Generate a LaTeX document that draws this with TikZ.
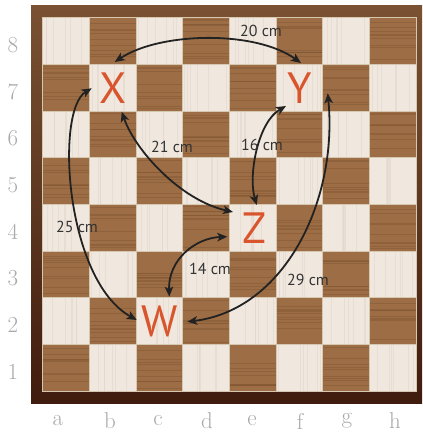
\documentclass[tikz,border=0pt]{standalone}
\usepackage{fontspec}
\newfontfamily\labfont{PT Sans}
\usetikzlibrary{arrows.meta}
\definecolor{lightsq}{HTML}{F0E8DF}
\definecolor{lightgrain}{HTML}{E2D7CB}
\definecolor{darksq}{HTML}{9D6E45}
\definecolor{darkgrain}{HTML}{7E5431}
\definecolor{frametop}{HTML}{7A5232}
\definecolor{framebot}{HTML}{401C0E}
\definecolor{piececol}{HTML}{D9552D}
\definecolor{arrowc}{HTML}{222222}
\definecolor{distc}{HTML}{333333}
\definecolor{coordc}{HTML}{A9A9A9}
\definecolor{gridc}{HTML}{D6C8B0}
\begin{document}
\begin{tikzpicture}[x=1bp,y=-1bp,
  piece/.style={text=piececol, font=\labfont\fontsize{44}{44}\selectfont, inner sep=0pt},
  dist/.style={text=distc, font=\labfont\fontsize{16}{16}\selectfont, inner sep=1pt},
  coordlabel/.style={text=coordc, font=\fontsize{23}{23}\selectfont, inner sep=0pt},
  conn/.style={draw=arrowc, line width=1.8bp, {Stealth[length=10bp,width=8.5bp,inset=2.5bp]}-{Stealth[length=10bp,width=8.5bp,inset=2.5bp]}},
  dgrain/.style={draw=darkgrain, opacity=0.45},
  lgrain/.style={draw=lightgrain, opacity=0.6},
]
\useasboundingbox (0,0) rectangle (422,434);
\fill[white] (0,0) rectangle (422,434);
\shade[top color=frametop, bottom color=framebot] (31,6) rectangle (422,403);
\fill[lightsq] (42.7,17.7) rectangle (416,391);
\pgfmathsetseed{11}
\foreach \i in {0,...,7} \foreach \r in {1,...,8} {
  \pgfmathtruncatemacro\isdark{mod(\i+\r,2)}
  \pgfmathsetmacro\sx{42.7+46.667*\i}
  \pgfmathsetmacro\sy{17.7+46.667*(8-\r)}
  \ifnum\isdark=1
    \fill[darksq] (\sx,\sy) rectangle +(46.667,46.667);
    \foreach \g in {1,...,9} {
      \pgfmathsetmacro\gy{\sy+2+42.6*rnd}
      \pgfmathsetmacro\gw{0.4+0.8*rnd}
      \draw[dgrain, line width=\gw bp] (\sx,\gy) -- ({\sx+46.667},\gy);
    }
  \else
    \foreach \g in {1,...,6} {
      \pgfmathsetmacro\gx{\sx+2+42.6*rnd}
      \draw[lgrain, line width=0.5bp] (\gx,\sy) -- (\gx,{\sy+46.667});
    }
  \fi
}
\foreach \k in {1,...,7} {
  \draw[gridc, line width=0.6bp] ({42.7+46.667*\k},17.7) -- ({42.7+46.667*\k},391);
  \draw[gridc, line width=0.6bp] (42.7,{17.7+46.667*\k}) -- (416,{17.7+46.667*\k});
}
\draw[gridc, line width=1bp] (42.7,17.7) rectangle (416,391);
% rank and file labels
\foreach \r in {1,...,8} {
  \node[coordlabel] (rank\r) at (13,{17.7+46.667*(8-\r)+23.3+4}) {\r};
}
\node[coordlabel] (fa) at (58,421) {a};
\node[coordlabel] (fb) at (110,421) {b};
\node[coordlabel] (fc) at (158,421) {c};
\node[coordlabel] (fd) at (207,421) {d};
\node[coordlabel] (fe) at (252,421) {e};
\node[coordlabel] (ff) at (300,421) {f};
\node[coordlabel] (fg) at (347,421) {g};
\node[coordlabel] (fh) at (395,421) {h};
% pieces
\node[piece] (X) at (112.7,87.7) {X};
\node[piece] (Y) at (299.3,87.7) {Y};
\node[piece] (Z) at (254.5,228.5) {Z};
\node[piece] (W) at (159.3,321.3) {W};
% connectors
\draw[conn] ([shift={(2,-25.7)}]X.center) .. controls (160,32) and (255,30) .. ([shift={(1.7,-24.7)}]Y.center);
\draw[conn] ([shift={(9,24)}]X.center) .. controls (135,150) and (180,200) .. ([shift={(-21.5,-16.5)}]Z.center);
\draw[conn] ([shift={(-13.3,18.3)}]Y.center) .. controls (258,122) and (248,175) .. ([shift={(2.2,-23.5)}]Z.center);
\draw[conn] ([shift={(-21,0.6)}]X.center) .. controls (55,110) and (65,280) .. ([shift={(-22.6,-1.3)}]W.center);
\draw[conn] ([shift={(-27.2,8.2)}]Z.center) .. controls (195,238) and (168,260) .. ([shift={(10,-24.6)}]W.center);
\draw[conn] ([shift={(28.4,5.6)}]Y.center) .. controls (338,200) and (285,310) .. ([shift={(28,0.4)}]W.center);
% distance labels
\node[dist] (l20) at (261,31) {20 cm};
\node[dist] (l21) at (172,147) {21 cm};
\node[dist] (l16) at (262,145) {16 cm};
\node[dist] (l25) at (77,227) {25 cm};
\node[dist] (l14) at (210,269) {14 cm};
\node[dist] (l29) at (308,280) {29 cm};
\end{tikzpicture}
\end{document}
